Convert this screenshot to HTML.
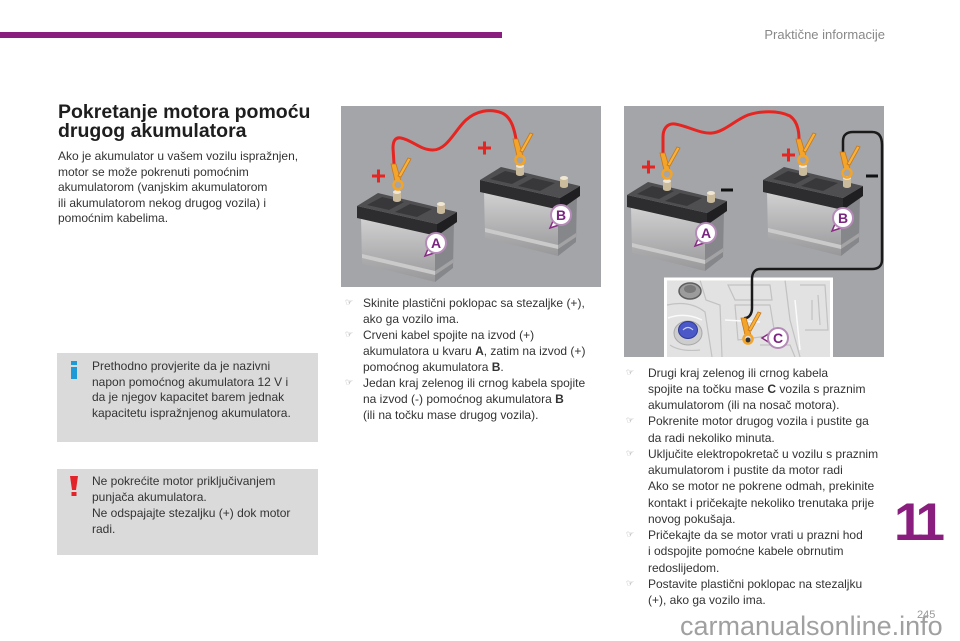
<!DOCTYPE html>
<html><head><meta charset="utf-8">
<style>
html,body{margin:0;padding:0;}
body{width:960px;height:640px;position:relative;overflow:hidden;background:#fff;font-family:"Liberation Sans",Arial,sans-serif;color:#333;}
.a{position:absolute;white-space:nowrap;}
svg.bg{position:absolute;left:0;top:0;}
.bul{color:#8a8a8a;font-family:"DejaVu Sans",sans-serif;font-size:9px;}
</style></head><body>
<svg class="bg" width="960" height="640" viewBox="0 0 960 640">
<defs>
<linearGradient id="gf" x1="0" y1="0" x2="0" y2="1">
<stop offset="0" stop-color="#d2d2d3"/><stop offset="1" stop-color="#98989a"/>
</linearGradient>
<g id="bat">
 <polygon points="78,44 97,31 96,78 78,92" fill="#86878a"/>
 <polygon points="4,27 78,44 78,92 5,74" fill="url(#gf)"/>
 <polygon points="5,64 78,81 78,85 5,68" fill="#cacaca"/>
 <polygon points="78,81 96,69 96,73 78,85" fill="#a3a3a5"/>
 <polygon points="0,16 80,34 80,46 0,28" fill="#2d2d2f"/>
 <polygon points="80,34 100,22 100,32 80,46" fill="#1f1f21"/>
 <polygon points="0,16 21,3 100,22 80,34" fill="#4f4f52"/>
 <polygon points="10,15 25,7 47,12 32,20" fill="#38383a"/>
 <polygon points="38,22 53,14 75,19 60,27" fill="#38383a"/>
 <rect x="36" y="2" width="8" height="8" fill="#c9bb9b"/>
 <ellipse cx="40" cy="10" rx="4" ry="2" fill="#c9bb9b"/>
 <ellipse cx="40" cy="2" rx="4" ry="2" fill="#efe6d3"/>
 <rect x="80" y="14" width="8" height="8" fill="#c9bb9b"/>
 <ellipse cx="84" cy="22" rx="4" ry="2" fill="#c9bb9b"/>
 <ellipse cx="84" cy="14" rx="4" ry="2" fill="#efe6d3"/>
</g>
<g id="clamp">
 <polygon points="-7,-22 -2,-22 3,-5 -3,-5" fill="#f3a42a" stroke="#c9771a" stroke-width="0.8"/>
 <polygon points="0,-10 3,-9 13,-27 10,-28" fill="#f6b23a" stroke="#c9771a" stroke-width="0.8"/>
 <circle cx="0" cy="-1" r="4.5" fill="none" stroke="#f3a42a" stroke-width="2.5"/>
</g>
<clipPath id="ci"><rect x="665" y="278" width="167" height="79"/></clipPath>
</defs>

<rect x="0" y="32" width="502" height="6" fill="#8a1e7e"/>

<rect x="57" y="353" width="261" height="89" fill="#dadadb"/>
<rect x="57" y="469" width="261" height="86" fill="#dadadb"/>
<rect x="71" y="361" width="6" height="4" fill="#1e9ad8"/>
<rect x="71" y="367" width="6" height="12" fill="#1e9ad8"/>
<polygon points="70,476 78,476 76,490 72,490" fill="#e2232a"/>
<rect x="71.5" y="492" width="5" height="4" fill="#e2232a"/>

<!-- image 1 -->
<rect x="341" y="106" width="260" height="181" fill="#a4a5a8"/>
<use href="#bat" transform="translate(480,164)"/>
<use href="#bat" transform="translate(357,190)"/>
<path d="M394,164 L393,148 C393,140 396,137 401,138 C412,140 420,150 433,150 C447,150 455,130 466,120 C476,111 490,108 502,113 C511,117 514,128 516,139" fill="none" stroke="#e52521" stroke-width="3" stroke-linecap="round"/>
<use href="#clamp" transform="translate(398,186)"/>
<use href="#clamp" transform="translate(520,161)"/>
<g stroke="#e52521" stroke-width="3"><path d="M372,176 h13 M378.5,169.5 v13"/><path d="M478,148 h13 M484.5,141.5 v13"/></g>
<g transform="translate(436,243)"><path d="M-8,6 L-11,13 L-2,10 Z" fill="#fff" stroke="#8a2a85" stroke-width="1.5"/><circle r="10" fill="#fff" stroke="#b58ab8" stroke-width="2"/><text y="5" text-anchor="middle" font-size="14" font-weight="bold" fill="#7a2580" font-family="Liberation Sans">A</text></g>
<g transform="translate(561,215)"><path d="M-8,6 L-11,13 L-2,10 Z" fill="#fff" stroke="#8a2a85" stroke-width="1.5"/><circle r="10" fill="#fff" stroke="#b58ab8" stroke-width="2"/><text y="5" text-anchor="middle" font-size="14" font-weight="bold" fill="#7a2580" font-family="Liberation Sans">B</text></g>

<!-- image 2 -->
<rect x="624" y="106" width="260" height="251" fill="#a4a5a8"/>
<use href="#bat" transform="translate(763,164)"/>
<use href="#bat" transform="translate(627,179)"/>
<g clip-path="url(#ci)">
<rect x="665" y="278" width="167" height="79" fill="#e2e2e2"/>
<g fill="none" stroke="#c2c2c2" stroke-width="1.2">
<path d="M667,305 Q690,300 705,312 L712,357"/>
<path d="M700,280 L706,300 L720,305 L722,357"/>
<path d="M728,285 L770,285 L772,300 L735,300 Z"/>
<path d="M735,305 L770,305 L775,335 L738,340 Z"/>
<path d="M785,280 L790,320 L800,357"/>
<path d="M800,285 L825,285 L828,330 L805,330"/>
<path d="M812,300 L812,320 M818,295 L820,325"/>
<path d="M760,345 L790,345 L795,357"/>
<path d="M670,345 Q680,352 700,350"/>
</g>
<g fill="none" stroke="#fafafa" stroke-width="1.5">
<path d="M668,318 Q685,312 702,320"/>
<path d="M725,320 L760,322"/>
<path d="M795,300 L800,350"/>
</g>
<ellipse cx="690" cy="291" rx="11" ry="8" fill="#9c9c9c" stroke="#5e5e5e" stroke-width="1.5"/>
<ellipse cx="690" cy="289" rx="6" ry="4" fill="#7a7a7a"/>
<ellipse cx="688" cy="333" rx="14" ry="12" fill="#cdcdcd" stroke="#a8a8a8"/>
<ellipse cx="688" cy="330" rx="9.5" ry="8.5" fill="#4a58c8" stroke="#2e3a96"/>
<path d="M683,330 q5,-5 10,0" fill="none" stroke="#c8cef0" stroke-width="1.2"/>
</g>
<rect x="665.5" y="279" width="166" height="80" fill="none" stroke="#fff" stroke-width="3"/>
<path d="M663,153 L663,137 C663,128 668,123 675,124 C688,126 700,134 712,133 C724,132 735,120 748,115 C760,111 778,110 790,116 C797,121 799,130 799,139" fill="none" stroke="#e52521" stroke-width="3" stroke-linecap="round"/>
<path d="M843,152 L843,141 C843,135 847,132 853,132 L872,132 C879,132 882,137 882,145 L882,260 C882,266 878,269 872,269 L760,269 C755,269 752,273 752,279 L752,308 C752,314 749,318 745,318" fill="none" stroke="#1a1a1a" stroke-width="2.5" stroke-linecap="round"/>
<use href="#clamp" transform="translate(667,175)"/>
<use href="#clamp" transform="translate(803,161)"/>
<use href="#clamp" transform="translate(847,174)"/>
<use href="#clamp" transform="translate(748,340)"/>
<circle cx="748" cy="340" r="2.5" fill="#333"/>
<g stroke="#e52521" stroke-width="3"><path d="M642,167 h13 M648.5,160.5 v13"/><path d="M782,155 h13 M788.5,148.5 v13"/></g>
<g stroke="#111" stroke-width="3"><path d="M721,190 h12"/><path d="M866,176 h12"/></g>
<g transform="translate(706,233)"><path d="M-8,6 L-11,13 L-2,10 Z" fill="#fff" stroke="#8a2a85" stroke-width="1.5"/><circle r="10" fill="#fff" stroke="#b58ab8" stroke-width="2"/><text y="5" text-anchor="middle" font-size="14" font-weight="bold" fill="#7a2580" font-family="Liberation Sans">A</text></g>
<g transform="translate(843,218)"><path d="M-8,6 L-11,13 L-2,10 Z" fill="#fff" stroke="#8a2a85" stroke-width="1.5"/><circle r="10" fill="#fff" stroke="#b58ab8" stroke-width="2"/><text y="5" text-anchor="middle" font-size="14" font-weight="bold" fill="#7a2580" font-family="Liberation Sans">B</text></g>
<g transform="translate(778,338)"><path d="M-8,-5 L-16,0 L-8,5 Z" fill="#fff" stroke="#8a2a85" stroke-width="1.5"/><circle r="10" fill="#fff" stroke="#b58ab8" stroke-width="2"/><text y="5" text-anchor="middle" font-size="14" font-weight="bold" fill="#7a2580" font-family="Liberation Sans">C</text></g>
</svg>

<div class="a" style="right:75px;top:26.5px;font-size:13px;line-height:16px;color:#888;">Praktične informacije</div>

<div class="a" style="left:58px;top:102.7px;font-size:19.5px;line-height:19px;font-weight:bold;color:#1e1e1e;">Pokretanje motora pomoću<br>drugog akumulatora</div>

<div class="a" style="left:58px;top:149px;font-size:12px;line-height:15.5px;">Ako je akumulator u vašem vozilu ispražnjen,<br>motor se može pokrenuti pomoćnim<br>akumulatorom (vanjskim akumulatorom<br>ili akumulatorom nekog drugog vozila) i<br>pomoćnim kabelima.</div>

<div class="a" style="left:92px;top:359px;font-size:12px;line-height:15.7px;">Prethodno provjerite da je nazivni<br>napon pomoćnog akumulatora 12 V i<br>da je njegov kapacitet barem jednak<br>kapacitetu ispražnjenog akumulatora.</div>

<div class="a" style="left:92px;top:473px;font-size:12px;line-height:16px;">Ne pokrećite motor priključivanjem<br>punjača akumulatora.<br>Ne odspajajte stezaljku (+) dok motor<br>radi.</div>

<div class="a bul" style="left:345px;top:294.8px;line-height:16.1px;">☞<br><br>☞<br><br><br>☞</div>
<div class="a" style="left:363px;top:294.8px;font-size:12px;line-height:16.1px;">Skinite plastični poklopac sa stezaljke (+),<br>ako ga vozilo ima.<br>Crveni kabel spojite na izvod (+)<br>akumulatora u kvaru <b>A</b>, zatim na izvod (+)<br>pomoćnog akumulatora <b>B</b>.<br>Jedan kraj zelenog ili crnog kabela spojite<br>na izvod (-) pomoćnog akumulatora <b>B</b><br>(ili na točku mase drugog vozila).</div>

<div class="a bul" style="left:626px;top:364.7px;line-height:16.25px;">☞<br><br><br>☞<br><br>☞<br><br><br><br><br>☞<br><br><br>☞</div>
<div class="a" style="left:648px;top:364.7px;font-size:12px;line-height:16.25px;">Drugi kraj zelenog ili crnog kabela<br>spojite na točku mase <b>C</b> vozila s praznim<br>akumulatorom (ili na nosač motora).<br>Pokrenite motor drugog vozila i pustite ga<br>da radi nekoliko minuta.<br>Uključite elektropokretač u vozilu s praznim<br>akumulatorom i pustite da motor radi<br>Ako se motor ne pokrene odmah, prekinite<br>kontakt i pričekajte nekoliko trenutaka prije<br>novog pokušaja.<br>Pričekajte da se motor vrati u prazni hod<br>i odspojite pomoćne kabele obrnutim<br>redoslijedom.<br>Postavite plastični poklopac na stezaljku<br>(+), ako ga vozilo ima.</div>

<div class="a" style="left:894px;top:496px;font-size:53px;line-height:53px;font-weight:bold;color:#8a1e7e;letter-spacing:-5px;">11</div>

<div class="a" style="left:917px;top:609px;font-size:11px;line-height:12px;color:#999;">245</div>
<div class="a" style="left:680px;top:613px;font-size:27px;line-height:27px;color:#a0a0a0;">carmanualsonline.info</div>
</body></html>
